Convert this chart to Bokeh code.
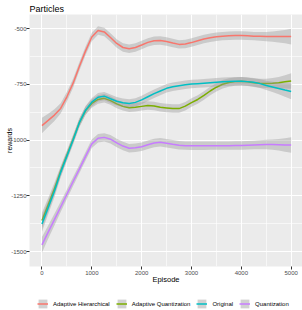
from bokeh.plotting import figure
from bokeh.layouts import column
from bokeh.models import Legend, LegendItem, FixedTicker, Range1d, ColumnDataSource
from bokeh.embed import file_html
from bokeh.resources import INLINE

episode = [0, 125, 250, 375, 500, 625, 750, 875, 1000, 1125, 1250, 1375, 1500, 1625,
           1750, 1875, 2000, 2125, 2250, 2375, 2500, 2625, 2750, 2875, 3000, 3125,
           3250, 3375, 3500, 3625, 3750, 3875, 4000, 4125, 4250, 4375, 4500, 4625,
           4750, 4875, 5000]
adaptive_hierarchical = [-935, -912, -888, -858, -806, -745, -670, -600, -538, -509, -515,
                         -540, -567, -585, -591, -585, -574, -562, -555, -554, -558, -565,
                         -571, -569, -563, -555, -547, -541, -537, -534, -532, -531, -531,
                         -532, -534, -535, -536, -536, -536, -536, -536]
adaptive_quantization = [-1361, -1290, -1218, -1140, -1068, -996, -922, -868, -836, -818,
                         -813, -823, -838, -849, -855, -853, -849, -845, -847, -853, -856,
                         -859, -859, -848, -832, -818, -800, -780, -763, -750, -742, -738,
                         -736, -739, -743, -745, -746, -745, -743, -739, -735]
original = [-1376, -1303, -1230, -1145, -1072, -1000, -922, -866, -830, -808, -803, -815,
            -826, -833, -836, -831, -820, -806, -792, -780, -768, -761, -756, -752, -749,
            -747, -745, -743, -741, -739, -737, -736, -736, -738, -741, -747, -755, -762,
            -769, -776, -782]
quantization = [-1470, -1413, -1357, -1300, -1243, -1186, -1130, -1073, -1017, -992, -988,
                -996, -1013, -1027, -1037, -1035, -1030, -1021, -1013, -1010, -1014, -1019,
                -1023, -1025, -1026, -1026, -1026, -1025, -1025, -1025, -1025, -1024, -1024,
                -1023, -1022, -1021, -1020, -1020, -1021, -1022, -1022]
band = [35, 30, 26, 23, 21, 20, 19, 19, 19, 19, 19, 19, 19, 19, 19, 19, 19, 19, 19, 19, 19,
        19, 19, 19, 19, 19, 19, 19, 19, 19, 19, 19, 19, 19, 19, 20, 21, 23, 26, 30, 35]

series_names = ["Adaptive Hierarchical", "Adaptive Quantization", "Original", "Quantization"]
series_values = [adaptive_hierarchical, adaptive_quantization, original, quantization]
series_colors = ["#F8766D", "#7CAE00", "#00BFC4", "#C77CFF"]

x_ticks = [0, 1000, 2000, 3000, 4000, 5000]
x_minor = [500, 1500, 2500, 3500, 4500]
y_ticks = [-1500, -1250, -1000, -750, -500]
y_minor = [-1375, -1125, -875, -625]

p = figure(width=302, height=290, output_backend="svg", toolbar_location=None,
           x_range=Range1d(-250, 5227), y_range=Range1d(-1567, -437),
           background_fill_color="#EBEBEB", border_fill_color="white",
           outline_line_color=None, min_border_left=29, min_border_right=0,
           min_border_top=14, min_border_bottom=24)

p.title.text = "Particles"
p.title.text_font = "Liberation Sans"
p.title.text_font_size = "9px"
p.title.text_font_style = "normal"
p.title.text_color = "#000000"
p.title.align = "left"
p.title.offset = 0
p.title.standoff = 1

leg = figure(width=302, height=20, output_backend="svg", toolbar_location=None,
             x_range=Range1d(0, 1), y_range=Range1d(0, 1),
             border_fill_color="white", background_fill_color="white",
             outline_line_color=None, min_border_left=0, min_border_right=0,
             min_border_top=0, min_border_bottom=0)
leg.axis.visible = False
leg.grid.visible = False

items = []
for name, vals, col in zip(series_names, series_values, series_colors):
    src = ColumnDataSource(dict(
        x=episode, y=vals,
        lo=[v - b for v, b in zip(vals, band)],
        hi=[v + b for v, b in zip(vals, band)]))
    p.varea(x="x", y1="lo", y2="hi", source=src, fill_color="#999999", fill_alpha=0.4)
    p.line(x="x", y="y", source=src, line_color=col, line_width=1.5)
    lb = leg.varea(x="x", y1="lo", y2="hi", source=src, fill_color="#999999", fill_alpha=0.45)
    ll = leg.line(x="x", y="y", source=src, line_color=col, line_width=1.5)
    items.append(LegendItem(label=name, renderers=[lb, ll]))

p.xaxis.ticker = FixedTicker(ticks=x_ticks, minor_ticks=x_minor)
p.yaxis.ticker = FixedTicker(ticks=y_ticks, minor_ticks=y_minor)
p.yaxis.major_label_overrides = {t: str(t) for t in y_ticks}
p.xaxis.major_label_overrides = {t: str(t) for t in x_ticks}
p.xaxis.axis_label = "Episode"
p.yaxis.axis_label = "rewards"
for ax in (p.xaxis, p.yaxis):
    ax.axis_line_color = None
    ax.major_tick_line_color = "#333333"
    ax.major_tick_out = 3
    ax.major_tick_in = 0
    ax.minor_tick_out = 0
    ax.minor_tick_in = 0
    ax.major_label_text_font = "Liberation Sans"
    ax.major_label_text_font_size = "6px"
    ax.major_label_text_color = "#4D4D4D"
    ax.major_label_standoff = 1
    ax.axis_label_text_font = "Liberation Sans"
    ax.axis_label_text_font_size = "7.5px"
    ax.axis_label_text_font_style = "normal"
    ax.axis_label_text_color = "#000000"
p.yaxis.axis_label_text_font_size = "7px"
p.yaxis.major_label_standoff = 0
p.yaxis.axis_label_standoff = -5
p.xaxis.axis_label_standoff = -3

p.xgrid.grid_line_color = "white"
p.ygrid.grid_line_color = "white"
p.xgrid.grid_line_width = 1.1
p.ygrid.grid_line_width = 1.1
p.xgrid.minor_grid_line_color = "white"
p.ygrid.minor_grid_line_color = "white"
p.xgrid.minor_grid_line_width = 0.6
p.ygrid.minor_grid_line_width = 0.6

legend = Legend(items=items, orientation="horizontal", location=(8, 1),
                glyph_width=11, glyph_height=11, label_text_font="Liberation Sans",
                label_text_font_size="6px", label_text_color="#000000",
                label_standoff=5, spacing=6, padding=0, margin=0,
                border_line_color=None, background_fill_alpha=0)
leg.add_layout(legend, "center")

layout = column(p, leg, spacing=0)
open("out.html", "w").write(file_html(layout, INLINE))
